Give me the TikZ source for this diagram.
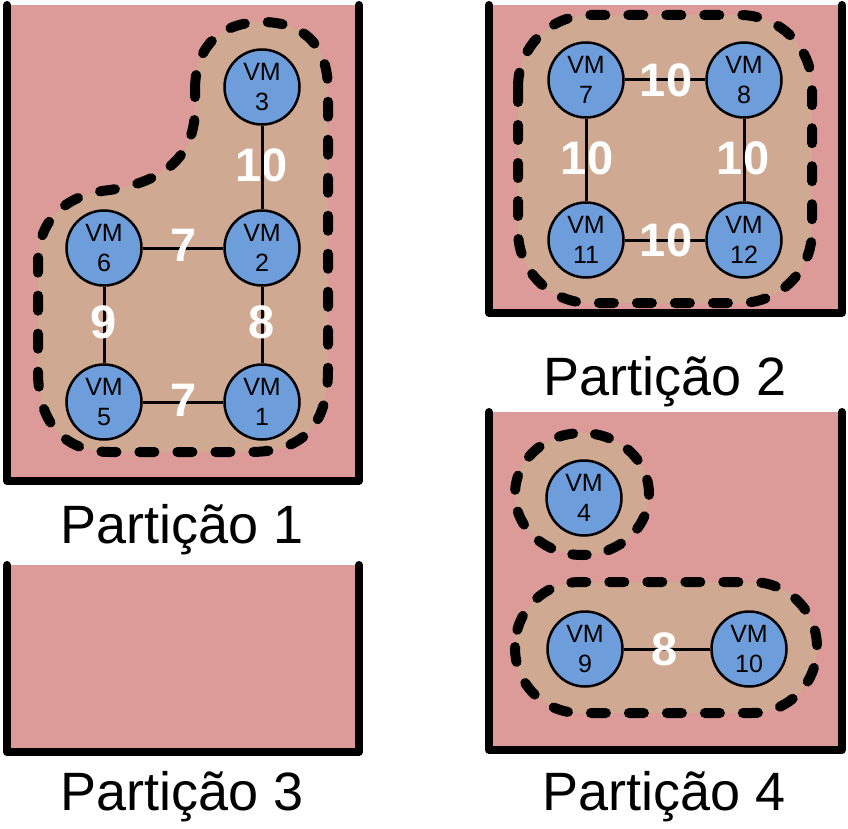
\documentclass[tikz,border=0pt]{standalone}
\usepackage{fontspec}
\setmainfont{Liberation Sans}
\definecolor{partpink}{RGB}{220,155,152}
\definecolor{grouptan}{RGB}{207,169,145}
\definecolor{vmblue}{RGB}{110,157,219}

\begin{document}
\begin{tikzpicture}
[x=1pt, y=-1pt,
 vm/.style={draw, circle, fill=vmblue, line width=2.5pt, minimum size=75pt, inner sep=0pt, align=center, font=\fontsize{25}{30}\selectfont},
 wt/.style={text=white, inner sep=0pt, font=\fontsize{47}{47}\selectfont\bfseries},
 wall/.style={line width=8pt, line cap=round, line join=round},
 group/.style={fill=grouptan, draw=black, line width=10pt, line cap=round, dash pattern=on 15pt off 23pt},
 link/.style={line width=3pt},
 partlabel/.style={anchor=base, inner sep=0pt, font=\fontsize{54}{54}\selectfont}]
\useasboundingbox (0,0) rectangle (848,829);

% Partition boxes
\fill[partpink] (7,5) rectangle (359,481);
\draw[wall] (7,5) -- (7,481) -- (359,481) -- (359,5);
\fill[partpink] (489,5) rectangle (842,313);
\draw[wall] (489,5) -- (489,313) -- (842,313) -- (842,5);
\fill[partpink] (7,565) rectangle (359,752);
\draw[wall] (7,565) -- (7,752) -- (359,752) -- (359,565);
\fill[partpink] (489,412) rectangle (842,750);
\draw[wall] (489,412) -- (489,750) -- (842,750) -- (842,412);

\node[partlabel] (p1) at (182,543) {Partição 1};
\node[partlabel] (p2) at (665,395) {Partição 2};
\node[partlabel] (p3) at (182,810) {Partição 3};
\node[partlabel] (p4) at (664,810) {Partição 4};

% Groups
\draw[group] (195,90) .. controls (195,40) and (228,22) .. (262,22)
  .. controls (300,22) and (328,42) .. (328,90) -- (328,370)
  .. controls (328,428) and (300,452) .. (250,452) -- (110,452)
  .. controls (62,452) and (38,420) .. (38,372) -- (38,262)
  .. controls (38,218) and (68,194) .. (110,190)
  .. controls (160,182) and (193,160) .. (195,112) -- cycle;
\draw[group, rounded corners=72pt] (518,15) rectangle (812,303);
\draw[group, dash pattern=on 14.5pt off 22pt] (582,494) ellipse [x radius=67pt, y radius=61pt];
\draw[group, rounded corners=65pt] (515,582) rectangle (817,713);

% Partition 1
\node[vm] (vm3) at (262,87) {VM\\3};
\node[vm] (vm2) at (262,248) {VM\\2};
\node[vm] (vm6) at (104,248) {VM\\6};
\node[vm] (vm5) at (104,402) {VM\\5};
\node[vm] (vm1) at (262,402) {VM\\1};

\node[wt] (w32) at (262,165) {10};
\draw[link] (vm3) -- (vm2);
\draw[link] (vm6) -- (vm2);
\draw[link] (vm6) -- (vm5);
\draw[link] (vm2) -- (vm1);
\draw[link] (vm5) -- (vm1);
\node[wt] (w62) at (184,245) {7};
\node[wt] (w65) at (104,322) {9};
\node[wt] (w21) at (262,322) {8};
\node[wt] (w51) at (184,400) {7};

% Partition 2
\node[vm] (vm7) at (586,80) {VM\\7};
\node[vm] (vm8) at (744,80) {VM\\8};
\node[vm] (vm11) at (586,240) {VM\\11};
\node[vm] (vm12) at (744,240) {VM\\12};

\draw[link] (vm7) -- (vm8);
\draw[link] (vm7) -- (vm11);
\draw[link] (vm8) -- (vm12);
\draw[link] (vm11) -- (vm12);
\node[wt] (w78) at (666,80) {10};
\node[wt] (w711) at (587,158) {10};
\node[wt] (w812) at (743,158) {10};
\node[wt] (w1112) at (666,240) {10};

% Partition 4
\node[vm] (vm4) at (584,498) {VM\\4};
\node[vm] (vm9) at (585,649) {VM\\9};
\node[vm] (vm10) at (749,649) {VM\\10};

\draw[link] (vm9) -- (vm10);
\node[wt] (w910) at (665,649) {8};
\end{tikzpicture}
\end{document}
